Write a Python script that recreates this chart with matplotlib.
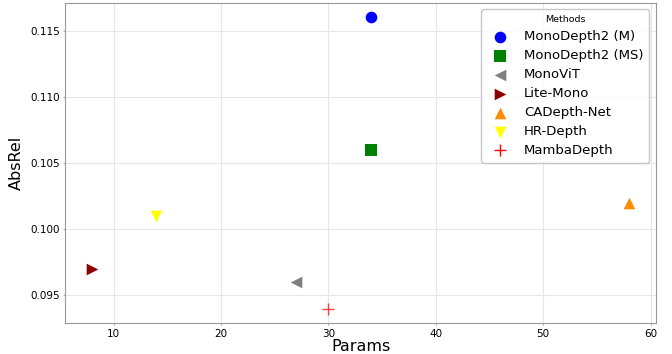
import matplotlib
matplotlib.use("Agg")
import matplotlib.pyplot as plt

methods = ["MonoDepth2 (M)", "MonoDepth2 (MS)", "MonoViT", "Lite-Mono", "CADepth-Net", "HR-Depth", "MambaDepth"]
params = [34, 34, 27, 8, 58, 14, 30]
absrel = [0.116, 0.106, 0.096, 0.097, 0.102, 0.101, 0.094]
colors = ["blue", "green", "gray", "darkred", "darkorange", "yellow", "red"]
markers = ["o", "s", "<", ">", "^", "v", "+"]

fig = plt.figure(figsize=(6.72, 3.54), dpi=100)
ax = fig.add_axes([0.097, 0.087, 0.879, 0.905])
for m, p, a, c, mk in zip(methods, params, absrel, colors, markers):
    ax.scatter(p, a, s=70, c=c, marker=mk, label=m,
               linewidths=1.0 if mk == "+" else 0, alpha=0.75 if mk == "+" else 1, zorder=3)

ax.grid(True, color="#e6e6e6", linewidth=0.8, zorder=0)
ax.set_axisbelow(True)
for sp in ax.spines.values():
    sp.set_color("#999999")
ax.tick_params(axis="both", labelsize=7.5, color="#aaaaaa", length=1.5, pad=2.5)
ax.set_yticks([0.095, 0.100, 0.105, 0.110, 0.115])
ax.set_xlabel("Params", fontsize=11.5, labelpad=0)
ax.set_ylabel("AbsRel", fontsize=11.5, labelpad=4)
leg = ax.legend(title="Methods", loc="upper right", fontsize=9.5, title_fontsize=6.8,
                frameon=True, fancybox=True, markerscale=1.0, labelspacing=0.45,
                borderpad=0.45)
for h in leg.legend_handles:
    h.set_alpha(1)
leg.get_frame().set_edgecolor("#bbbbbb")
fig.savefig("out.png", dpi=100)
